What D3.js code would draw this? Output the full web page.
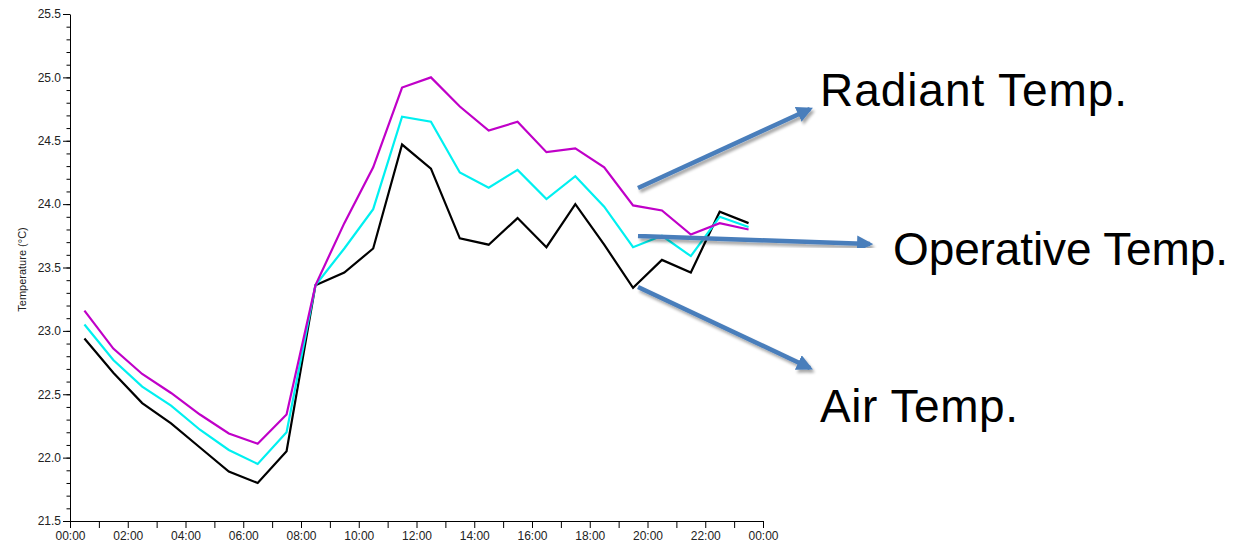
<!DOCTYPE html>
<html>
<head>
<meta charset="utf-8">
<script src="https://cdn.jsdelivr.net/npm/d3@7"></script>
<style>
  html, body { margin: 0; padding: 0; background: #fff; }
  svg { display: block; font-family: "Liberation Sans", Arial, sans-serif; }
</style>
</head>
<body>
<svg id="chart" width="1248" height="542"></svg>
<script>
// Hourly readings, taken at the half hour (hours since midnight)
const hours = [0.5, 1.5, 2.5, 3.5, 4.5, 5.5, 6.5, 7.5, 8.5, 9.5, 10.5, 11.5,
               12.5, 13.5, 14.5, 15.5, 16.5, 17.5, 18.5, 19.5, 20.5, 21.5, 22.5, 23.5];

const radiantTemp = [23.16, 22.86, 22.66, 22.51, 22.34, 22.19, 22.11, 22.34, 23.36, 23.85, 24.29, 24.92,
                     25.00, 24.77, 24.58, 24.65, 24.41, 24.44, 24.29, 23.99, 23.95, 23.76, 23.85, 23.80];
const operativeTemp = [23.05, 22.77, 22.56, 22.41, 22.22, 22.06, 21.95, 22.20, 23.36, 23.65, 23.96, 24.69,
                       24.65, 24.25, 24.13, 24.27, 24.04, 24.22, 23.98, 23.66, 23.75, 23.59, 23.90, 23.82];
const airTemp = [22.94, 22.67, 22.43, 22.27, 22.08, 21.89, 21.80, 22.05, 23.36, 23.46, 23.65, 24.47,
                 24.28, 23.73, 23.68, 23.89, 23.66, 24.00, 23.68, 23.34, 23.56, 23.46, 23.94, 23.85];

const yMajorTicks = [21.5, 22.0, 22.5, 23.0, 23.5, 24.0, 24.5, 25.0, 25.5];
const xMajorTicks = [0, 2, 4, 6, 8, 10, 12, 14, 16, 18, 20, 22, 24];
const yAxisTitle = "Temperature (°C)";
const calloutLabels = ["Radiant Temp.", "Operative Temp.", "Air Temp."];

const svg = d3.select("#chart");

const x = d3.scaleLinear().domain([0, 24]).range([70, 763]);
const y = d3.scaleLinear().domain([21.5, 25.5]).range([521, 14]);

const axisColor = "#000";
const labelColor = "#222";

// --- Y axis: minor ticks every 0.1, labelled ticks every 0.5
const yMinor = d3.range(21.5, 25.501, 0.1).map(v => +v.toFixed(1));
const gYMinor = svg.append("g").attr("transform", `translate(${x(0)},0)`)
  .call(d3.axisLeft(y).tickValues(yMinor).tickSize(3.5).tickSizeOuter(0).tickFormat(""));
gYMinor.select(".domain").remove();

const gY = svg.append("g").attr("transform", `translate(${x(0)},0)`)
  .call(d3.axisLeft(y).tickValues(yMajorTicks).tickSize(7).tickSizeOuter(0).tickPadding(2)
        .tickFormat(d3.format(".1f")));
gY.selectAll("text").attr("font-size", 12).attr("fill", labelColor)
  .attr("font-family", "'Liberation Sans', Arial, sans-serif");
svg.selectAll(".tick line, .domain").attr("stroke", axisColor);

// --- X axis: ticks every hour, labels every two hours
const xAll = d3.range(0, 25, 1);
const gX = svg.append("g").attr("transform", `translate(0,${y(21.5)})`)
  .call(d3.axisBottom(x).tickValues(xAll).tickSize(7).tickSizeOuter(0)
        .tickFormat(h => xMajorTicks.includes(h) ? String(h % 24).padStart(2, "0") + ":00" : ""));
gX.selectAll("text").attr("font-size", 12).attr("fill", labelColor)
  .attr("font-family", "'Liberation Sans', Arial, sans-serif");
gX.selectAll(".tick line, .domain").attr("stroke", axisColor);

// Y axis title
svg.append("text")
  .attr("transform", `translate(26,${(y(21.5) + y(25.5)) / 2 + 2}) rotate(-90)`)
  .attr("text-anchor", "middle")
  .attr("font-size", 11)
  .attr("fill", labelColor)
  .text(yAxisTitle);

// --- Temperature series (radiant drawn last, on top)
const series = [
  { values: airTemp, color: "#000000" },
  { values: operativeTemp, color: "#00f0f0" },
  { values: radiantTemp, color: "#c000c8" }
];

const line = d3.line().x((d, i) => x(hours[i])).y(d => y(d));

svg.append("g").selectAll("path")
  .data(series)
  .join("path")
  .attr("d", s => line(s.values))
  .attr("fill", "none")
  .attr("stroke", s => s.color)
  .attr("stroke-width", 2.2)
  .attr("stroke-linejoin", "miter");

// --- Callout arrows with soft shadow
const defs = svg.append("defs");
const shadow = defs.append("filter").attr("id", "shadow")
  .attr("x", "-20%").attr("y", "-20%").attr("width", "140%").attr("height", "160%");
shadow.append("feGaussianBlur").attr("in", "SourceAlpha").attr("stdDeviation", 1.6).attr("result", "blur");
shadow.append("feOffset").attr("dx", 2).attr("dy", 3).attr("result", "off");
shadow.append("feComponentTransfer").append("feFuncA").attr("type", "linear").attr("slope", 0.35);
const merge = shadow.append("feMerge");
merge.append("feMergeNode");
merge.append("feMergeNode").attr("in", "SourceGraphic");

defs.append("marker")
  .attr("id", "arrowhead")
  .attr("viewBox", "0 0 10 10")
  .attr("refX", 8).attr("refY", 5)
  .attr("markerWidth", 3.6).attr("markerHeight", 3.6)
  .attr("markerUnits", "strokeWidth")
  .attr("orient", "auto")
  .append("path")
  .attr("d", "M0,0 L10,5 L0,10 Z")
  .attr("fill", "#4a7ebb");

const callouts = [
  { from: [638, 188], to: [810, 109], text: calloutLabels[0], tx: 820, ty: 106, w: 307 },
  { from: [638, 236], to: [870, 244], text: calloutLabels[1], tx: 893, ty: 265, w: 335 },
  { from: [638, 287], to: [810, 368], text: calloutLabels[2], tx: 820, ty: 422, w: 198 }
];

const gc = svg.append("g");
gc.selectAll("line")
  .data(callouts)
  .join("line")
  .attr("x1", d => d.from[0]).attr("y1", d => d.from[1])
  .attr("x2", d => d.to[0]).attr("y2", d => d.to[1])
  .attr("stroke", "#4a7ebb")
  .attr("stroke-width", 4.5)
  .attr("marker-end", "url(#arrowhead)")
  .attr("filter", "url(#shadow)");

gc.selectAll("text")
  .data(callouts)
  .join("text")
  .attr("x", d => d.tx).attr("y", d => d.ty)
  .attr("font-size", 46)
  .attr("textLength", d => d.w)
  .attr("lengthAdjust", "spacing")
  .attr("fill", "#000")
  .attr("font-family", "'Liberation Sans', Arial, sans-serif")
  .text(d => d.text);
</script>
</body>
</html>
